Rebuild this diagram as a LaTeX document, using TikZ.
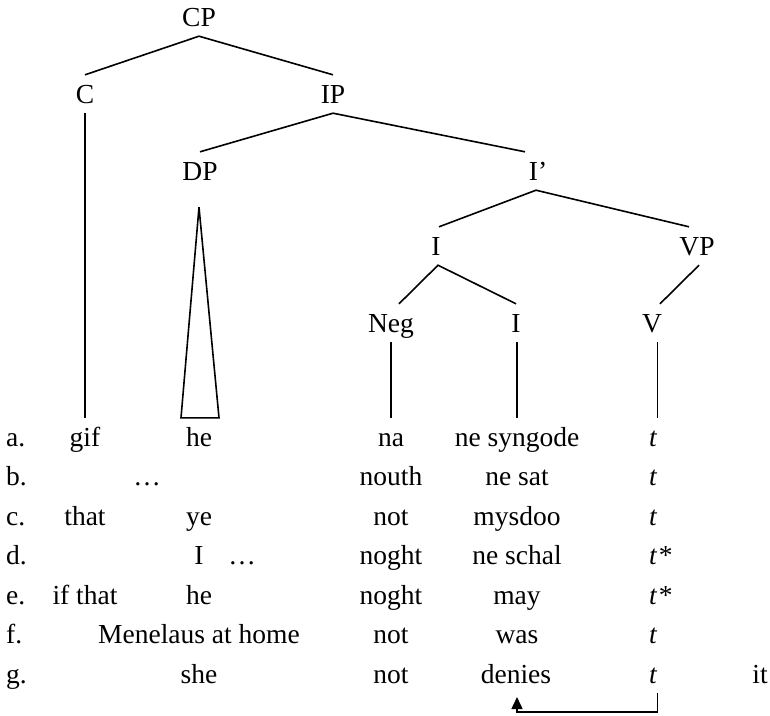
\documentclass[tikz,border=0pt]{standalone}
\usepackage{fontspec}
\setmainfont{Liberation Serif}
\usetikzlibrary{calc,arrows.meta}
\begin{document}
\begin{tikzpicture}[x=1pt,y=-1pt,
  lab/.style={font=\fontsize{27.5}{33}\selectfont, inner xsep=0pt, inner ysep=10pt, text height=18pt, text depth=0pt, anchor=base},
  cell/.style={font=\fontsize{27.5}{33}\selectfont, inner xsep=0pt, inner ysep=10pt, text height=18pt, text depth=6pt, anchor=base},
  tcell/.style={cell, anchor=base west},
  rowlab/.style={cell, anchor=base west},
  branch/.style={line width=1.6pt},
  mv/.style={line width=1.6pt, -{Triangle[length=12pt,width=11pt]}}]
\useasboundingbox (0,0) rectangle (770,715);
% tree labels
\node[lab] (CP) at (199,26) {CP};
\node[lab] (C) at (85,103) {C};
\node[lab] (IP) at (333,103) {IP};
\node[lab] (DP) at (200,180) {DP};
\node[lab] (Ip) at (538,180) {I’};
\node[lab] (I) at (436,255) {I};
\node[lab] (VP) at (697,255) {VP};
\node[lab] (Neg) at (391,332) {Neg};
\node[lab] (Il) at (516,332) {I};
\node[lab] (V) at (652,332) {V};
% rows
\def\ya{446}\def\yb{485.5}\def\yc{525}\def\yd{564.5}\def\ye{604}\def\yf{643.5}\def\yg{683}
\node[rowlab] (la) at (6,\ya) {a.};
\node[rowlab] (lb) at (6,\yb) {b.};
\node[rowlab] (lc) at (6,\yc) {c.};
\node[rowlab] (ld) at (6,\yd) {d.};
\node[rowlab] (le) at (6,\ye) {e.};
\node[rowlab] (lf) at (6,\yf) {f.};
\node[rowlab] (lg) at (6,\yg) {g.};
% a
\node[cell] (gif) at (85,\ya) {gif};
\node[cell] (hea) at (199,\ya) {he};
\node[cell] (na) at (391,\ya) {na};
\node[cell] (syn) at (517,\ya) {ne syngode};
\node[tcell] (ta) at (649,\ya) {\textit{t}};
% b
\node[cell] (dotsb) at (147,\yb) {…};
\node[cell] (nouth) at (391,\yb) {nouth};
\node[cell] (nesat) at (517,\yb) {ne sat};
\node[tcell] (tb) at (649,\yb) {\textit{t}};
% c
\node[cell] (that) at (85,\yc) {that};
\node[cell] (ye) at (199,\yc) {ye};
\node[cell] (notc) at (391,\yc) {not};
\node[cell] (mysdoo) at (517,\yc) {mysdoo};
\node[tcell] (tc) at (649,\yc) {\textit{t}};
% d
\node[cell] (Id) at (199,\yd) {I};
\node[cell] (dotsd) at (242,\yd) {…};
\node[cell] (noghtd) at (391,\yd) {noght};
\node[cell] (neschal) at (517,\yd) {ne schal};
\node[tcell] (td) at (649,\yd) {\textit{t}\kern1.5pt*};
% e
\node[cell] (ifthat) at (85,\ye) {if that};
\node[cell] (hee) at (199,\ye) {he};
\node[cell] (noghte) at (391,\ye) {noght};
\node[cell] (may) at (517,\ye) {may};
\node[tcell] (te) at (649,\ye) {\textit{t}\kern1.5pt*};
% f
\node[cell] (mene) at (199,\yf) {Menelaus at home};
\node[cell] (notf) at (391,\yf) {not};
\node[cell] (was) at (517,\yf) {was};
\node[tcell] (tf) at (649,\yf) {\textit{t}};
% g
\node[cell] (she) at (199,\yg) {she};
\node[cell] (notg) at (391,\yg) {not};
\node[cell] (denies) at (516,\yg) {denies};
\node[tcell] (tg) at (649,\yg) {\textit{t}};
\node[cell] (it) at (760,\yg) {it};
% helper coordinates
\coordinate (vx) at ($(ta.north)+(4,0)$);
\coordinate (apex) at ($(DP.south)+(-1,17)$);
\coordinate (arrS) at ($(tg.base)+(4,10)$);
\coordinate (arrC) at ($(tg.base)+(4,29)$);
\coordinate (arrE) at ($(denies.base)+(1,14)$);
% branches
\draw[branch] (C.north) -- (CP.south) -- (IP.north);
\draw[branch] (DP.north) -- (IP.south) -- ([xshift=-13pt]Ip.north);
\draw[branch] ([xshift=3pt]I.north) -- ([xshift=-2pt]Ip.south) -- ([xshift=-8pt]VP.north);
\draw[branch] ([xshift=8pt]Neg.north) -- ([xshift=2pt]I.south) -- (Il.north);
\draw[branch] ([xshift=2pt]VP.south) -- ([xshift=8pt]V.north);
\draw[branch] (C.south) -- (gif.north);
\draw[branch] (Neg.south) -- (na.north);
\draw[branch] (syn.north |- Il.south) -- (syn.north);
\draw[branch] (vx |- V.south) -- (vx);
\draw[branch, line join=miter] (apex) -- ([xshift=-18pt]hea.north) -- ([xshift=20pt]hea.north) -- cycle;
% movement arrow
\draw[mv] (arrS) -- (arrC) -| (arrE);
\end{tikzpicture}
\end{document}
